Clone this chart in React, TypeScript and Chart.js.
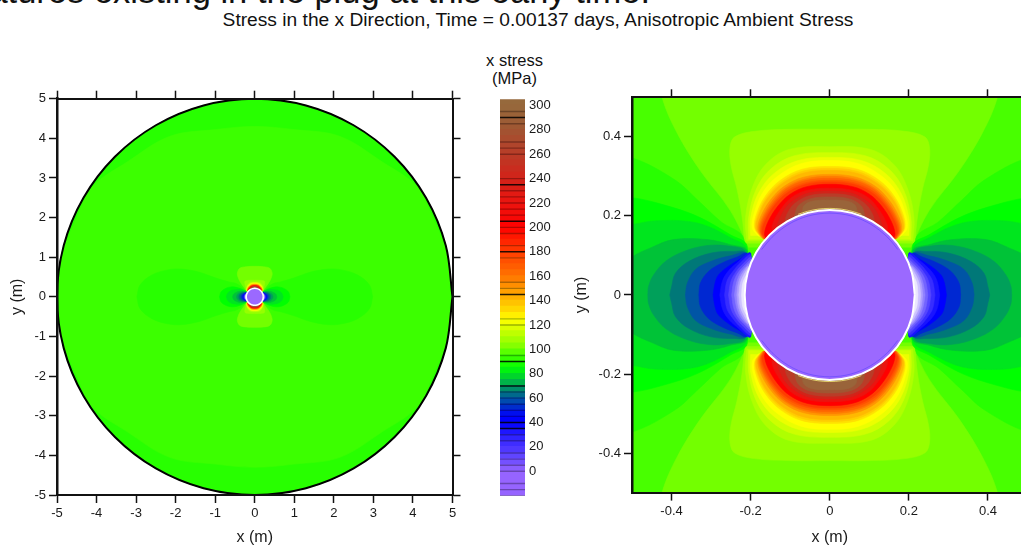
import React, { useEffect, useRef } from "react";
import { Chart, registerables } from "chart.js";

Chart.register(...registerables);

type Pt = [number, number];

// Axis ticks
const wideTicks = [-5, -4, -3, -2, -1, 0, 1, 2, 3, 4, 5];
const closeTicks = [-0.4, -0.2, 0, 0.2, 0.4];
const legendTicks = [0, 20, 40, 60, 80, 100, 120, 140, 160, 180, 200, 220, 240, 260, 280, 300];

// Colour-scale bands (lower edge of each 5 MPa band)
const legendBands = [
  -20, -15, -10, -5, 0, 5, 10, 15, 20, 25, 30, 35, 40, 45, 50, 55, 60, 65, 70, 75, 80, 85, 90, 95, 100, 105, 110, 115,
  120, 125, 130, 135, 140, 145, 150, 155, 160, 165, 170, 175, 180, 185, 190, 195, 200, 205, 210, 215, 220, 225, 230,
  235, 240, 245, 250, 255, 260, 265, 270, 275, 280, 285, 290, 295, 300,
];
const legendLinesStrong = [290, 235, 205, 180, 145, 90, 70, 40, 35];
const legendLinesFaint = [
  295, 285, 270, 265, 260, 240, 230, 225, 220, 215, 210, 200, 195, 185, 175, 155, 150, 125, 120, 95, 65, 60, 55, 50,
  45, 30, 25, 15, 10, 5, 0, -10, -15, -20,
];
const colorStops: Array<[number, number, number, number]> = [
  [-20, 150, 100, 255], [0, 150, 100, 255], [10, 105, 75, 255], [20, 70, 50, 255], [30, 40, 30, 255], [40, 0, 0, 255],
  [45, 0, 0, 255], [50, 0, 30, 220], [55, 0, 60, 190], [60, 0, 90, 160], [65, 0, 120, 120], [70, 0, 160, 90],
  [75, 0, 195, 55], [80, 0, 230, 30], [85, 0, 255, 0], [90, 40, 255, 0], [95, 65, 255, 0], [100, 115, 255, 0],
  [105, 150, 255, 0], [110, 175, 255, 0], [115, 205, 255, 0], [120, 235, 255, 0], [125, 255, 255, 0],
  [130, 255, 225, 0], [140, 255, 185, 0], [150, 255, 150, 0], [165, 255, 100, 0], [180, 255, 60, 0], [200, 255, 0, 0],
  [220, 235, 20, 15], [240, 210, 35, 25], [260, 185, 60, 40], [280, 160, 85, 50], [300, 150, 105, 60], [305, 150, 105, 60],
];

// Rims: one quadrant each, metres
const plugRim: Pt[] = [[5, 0], [4.83, 1.294], [4.33, 2.5], [3.536, 3.536], [2.5, 4.33], [1.294, 4.83], [0, 5]];
const holeRim: Pt[] = [[0.215, 0], [0.2077, 0.0556], [0.1862, 0.1075], [0.152, 0.152], [0.1075, 0.1862], [0.0556, 0.2077], [0, 0.215]];
const holeEdgeInner: Pt[] = [[0.172, 0.115], [0.146, 0.146], [0.1035, 0.179], [0.0536, 0.2], [0, 0.207]];
const holeEdgeOuter: Pt[] = [[0.08, 0.204], [0.0567, 0.2115], [0.03, 0.217], [0, 0.219]];
const lensQuadrant: Pt[] = [[4.95, 0], [4.85, 1.1], [4.5, 2.0], [4.1, 2.78], [3.23, 3.4], [2.15, 4.05], [1, 4.22], [0, 4.3]];
const closeBox: Pt[] = [[-0.5, -0.5], [0.5, -0.5], [0.5, 0.5], [-0.5, 0.5]];

// Crescent contours above and below the hole: tip -> crown, upper right quadrant
const crest100: Pt[] = [[0.205, 0.12], [0.251, 0.213], [0.327, 0.314], [0.386, 0.41], [0.424, 0.5], [0.44, 0.6], [0.38, 0.72], [0.22, 0.76], [0, 0.77]];
const crest105: Pt[] = [[0.215, 0.13], [0.222, 0.2], [0.235, 0.27], [0.25, 0.33], [0.252, 0.375], [0.24, 0.4], [0.19, 0.414], [0.1, 0.419], [0, 0.419]];
const crest110: Pt[] = [[0.21, 0.136], [0.213, 0.195], [0.196, 0.271], [0.162, 0.33], [0.103, 0.368], [0, 0.375]];
const crest115: Pt[] = [[0.205, 0.14], [0.205, 0.195], [0.187, 0.265], [0.15, 0.318], [0.09, 0.352], [0, 0.36]];
const crest120: Pt[] = [[0.2, 0.15], [0.2, 0.195], [0.18, 0.258], [0.14, 0.308], [0.08, 0.34], [0, 0.348]];
const crest125: Pt[] = [[0.179, 0.148], [0.196, 0.169], [0.191, 0.207], [0.17, 0.258], [0.132, 0.3], [0.073, 0.332], [0, 0.34]];
const crest130: Pt[] = [[0.175, 0.146], [0.19, 0.17], [0.185, 0.205], [0.163, 0.25], [0.125, 0.29], [0.07, 0.318], [0, 0.325]];
const crest135: Pt[] = [[0.173, 0.146], [0.188, 0.169], [0.182, 0.202], [0.16, 0.247], [0.122, 0.286], [0.069, 0.313], [0, 0.32]];
const crest140: Pt[] = [[0.172, 0.145], [0.186, 0.168], [0.18, 0.2], [0.157, 0.245], [0.12, 0.282], [0.068, 0.308], [0, 0.315]];
const crest150: Pt[] = [[0.17, 0.143], [0.182, 0.165], [0.175, 0.197], [0.15, 0.24], [0.115, 0.275], [0.066, 0.298], [0, 0.305]];
const crest158: Pt[] = [[0.168, 0.142], [0.179, 0.164], [0.171, 0.195], [0.146, 0.237], [0.112, 0.271], [0.064, 0.293], [0, 0.3]];
const crest165: Pt[] = [[0.166, 0.142], [0.176, 0.163], [0.168, 0.194], [0.143, 0.234], [0.11, 0.268], [0.063, 0.289], [0, 0.295]];
const crest172: Pt[] = [[0.165, 0.141], [0.174, 0.161], [0.165, 0.192], [0.14, 0.232], [0.107, 0.264], [0.061, 0.284], [0, 0.29]];
const crest180: Pt[] = [[0.163, 0.14], [0.171, 0.16], [0.162, 0.19], [0.137, 0.23], [0.105, 0.26], [0.06, 0.28], [0, 0.286]];
const crest200: Pt[] = [[0.16, 0.14], [0.165, 0.155], [0.155, 0.187], [0.131, 0.225], [0.1, 0.255], [0.058, 0.274], [0, 0.28]];
const crest220: Pt[] = [[0.145, 0.158], [0.145, 0.178], [0.125, 0.215], [0.096, 0.247], [0.056, 0.265], [0, 0.27]];
const crest240: Pt[] = [[0.135, 0.168], [0.128, 0.19], [0.112, 0.22], [0.09, 0.24], [0.054, 0.258], [0, 0.263]];
const crest260: Pt[] = [[0.115, 0.178], [0.108, 0.205], [0.088, 0.232], [0.052, 0.251], [0, 0.256]];
const crest280: Pt[] = [[0.09, 0.195], [0.08, 0.225], [0.05, 0.243], [0, 0.248]];
const crest295: Pt[] = [[0.07, 0.205], [0.065, 0.226], [0.045, 0.237], [0, 0.24]];

// Low-stress lobes beside the hole: axis -> tip, upper right quadrant
const trough90: Pt[] = [[2.98, 0], [2.9, 0.3], [2.6, 0.55], [2.2, 0.68], [1.85, 0.7], [1.4, 0.62], [1.0, 0.48], [0.63, 0.37], [0.5, 0.347], [0.39, 0.29], [0.335, 0.241], [0.276, 0.186], [0.217, 0.14]];
const trough85: Pt[] = [[0.89, 0], [0.85, 0.13], [0.72, 0.22], [0.6, 0.25], [0.5, 0.246], [0.42, 0.228], [0.335, 0.199], [0.251, 0.152], [0.209, 0.123]];
const trough80: Pt[] = [[0.72, 0], [0.68, 0.1], [0.58, 0.165], [0.5, 0.178], [0.436, 0.188], [0.335, 0.182], [0.251, 0.145], [0.209, 0.114]];
const trough75: Pt[] = [[0.56, 0], [0.54, 0.06], [0.5, 0.096], [0.453, 0.119], [0.395, 0.14], [0.31, 0.14], [0.251, 0.127], [0.209, 0.11]];
const trough70: Pt[] = [[0.46, 0], [0.458, 0.022], [0.445, 0.051], [0.415, 0.085], [0.369, 0.11], [0.31, 0.125], [0.251, 0.123], [0.213, 0.108]];
const trough65: Pt[] = [[0.4045, 0], [0.4, 0.02], [0.39, 0.055], [0.356, 0.085], [0.3, 0.106], [0.243, 0.11], [0.213, 0.105]];
const trough60: Pt[] = [[0.365, 0], [0.36, 0.03], [0.34, 0.064], [0.3, 0.085], [0.251, 0.099], [0.213, 0.103]];
const trough52: Pt[] = [[0.331, 0], [0.327, 0.03], [0.306, 0.06], [0.272, 0.081], [0.234, 0.096], [0.209, 0.104]];
const trough45: Pt[] = [[0.295, 0], [0.29, 0.03], [0.281, 0.051], [0.251, 0.076], [0.217, 0.096], [0.2, 0.105]];
const trough38: Pt[] = [[0.278, 0], [0.272, 0.033], [0.26, 0.056], [0.236, 0.08], [0.2, 0.104]];
const trough30: Pt[] = [[0.266, 0], [0.26, 0.035], [0.246, 0.058], [0.225, 0.082], [0.2, 0.1]];
const trough22: Pt[] = [[0.256, 0], [0.25, 0.034], [0.238, 0.057], [0.218, 0.08], [0.198, 0.095]];
const trough14: Pt[] = [[0.248, 0], [0.243, 0.032], [0.232, 0.056], [0.212, 0.078], [0.196, 0.09]];
const trough8: Pt[] = [[0.241, 0], [0.236, 0.03], [0.226, 0.055], [0.208, 0.076], [0.195, 0.085]];
const trough4: Pt[] = [[0.235, 0], [0.231, 0.03], [0.221, 0.054], [0.205, 0.072]];
const trough0: Pt[] = [[0.23, 0], [0.226, 0.03], [0.216, 0.053], [0.203, 0.07]];
const troughEdge: Pt[] = [[0.223, 0], [0.22, 0.03], [0.21, 0.052], [0.2, 0.066]];

const crestLevels: Array<[number, Pt[]]> = [
  [100, crest100], [105, crest105], [110, crest110], [115, crest115], [120, crest120], [125, crest125], [130, crest130],
  [135, crest135], [140, crest140], [150, crest150], [158, crest158], [165, crest165], [172, crest172], [180, crest180],
  [200, crest200], [220, crest220], [240, crest240], [260, crest260], [280, crest280], [295, crest295],
];
const troughLevels: Array<[string, Pt[]]> = [
  ["rgb(40,255,0)", trough90], ["rgb(0,255,0)", trough85], ["rgb(0,230,30)", trough80], ["rgb(0,195,55)", trough75],
  ["rgb(0,160,90)", trough70], ["rgb(0,120,120)", trough65], ["rgb(0,85,165)", trough60], ["rgb(0,40,210)", trough52],
  ["rgb(0,0,255)", trough45], ["rgb(25,20,255)", trough38], ["rgb(55,45,255)", trough30], ["rgb(85,70,255)", trough22],
  ["rgb(115,100,255)", trough14], ["rgb(145,130,255)", trough8], ["rgb(175,160,255)", trough4],
  ["rgb(205,195,255)", trough0], ["rgb(235,230,255)", troughEdge],
];

const FONT = "'Liberation Sans', Arial, sans-serif";
const INK = "#111";

function colorFor(v: number): string {
  for (let i = 1; i < colorStops.length; i++) {
    const a = colorStops[i - 1];
    const b = colorStops[i];
    if (v <= b[0]) {
      const t = (v - a[0]) / (b[0] - a[0]);
      const c = [1, 2, 3].map((k) => Math.round(a[k] + (b[k] - a[k]) * t));
      return `rgb(${c[0]},${c[1]},${c[2]})`;
    }
  }
  return "rgb(150,105,60)";
}

const flipX = (p: Pt[]): Pt[] => p.map(([x, y]) => [-x, y] as Pt);
const flipY = (p: Pt[]): Pt[] => p.map(([x, y]) => [x, -y] as Pt);
const ring = (q: Pt[]): Pt[] => {
  const top = [...q, ...flipX(q).reverse().slice(1)];
  return [...top, ...flipY(top).reverse().slice(1)];
};
const arch = (q: Pt[]): Pt[] => [...q, ...flipX(q).reverse().slice(1)];
const lobe = (q: Pt[]): Pt[] => [...q, ...flipY(q).reverse()];

function shape(points: Pt[], fill: string | null, extra: Record<string, unknown> = {}) {
  return {
    data: points.map(([x, y]) => ({ x, y })),
    showLine: true,
    fill: fill ? "shape" : false,
    backgroundColor: fill ?? "transparent",
    borderColor: fill ?? "transparent",
    borderWidth: fill ? 0.6 : 0,
    pointRadius: 0,
    tension: 0.36,
    ...extra,
  };
}

function fieldDatasets() {
  const out: any[] = [];
  for (const [level, q] of crestLevels) {
    out.push(shape(arch(q), colorFor(level)));
    out.push(shape(flipY(arch(q)), colorFor(level)));
  }
  for (const [color, q] of troughLevels) {
    out.push(shape(lobe(q), color));
    out.push(shape(flipX(lobe(q)), color));
  }
  return out;
}

function axisPair(ticks: number[], fix: number, common: any) {
  return {
    type: "linear",
    ...common,
    afterBuildTicks: (s: any) => {
      s.ticks = ticks.map((value) => ({ value }));
    },
    afterFit: (s: any) => {
      if (s.isHorizontal()) s.height = fix;
      else s.width = fix;
    },
  };
}

function plotOptions(cfg: {
  min: number; max: number; ticks: number[];
  left: number; right: number; top: number; bottom: number; titleInset: number;
}) {
  const base = {
    min: cfg.min,
    max: cfg.max,
    border: { display: true, color: INK, width: 2, z: 2 },
    grid: { drawOnChartArea: false, drawTicks: true, tickLength: 8, tickWidth: 1.5, tickColor: INK, z: 2 },
  };
  const labels = {
    display: true,
    color: "#1a1a1a",
    font: { family: FONT, size: 13 },
    padding: 3,
    maxRotation: 0,
    autoSkip: false,
    callback: (v: number) => String(Math.round(v * 10) / 10),
  };
  const silent = { display: false, autoSkip: false, maxRotation: 0 };
  const axisTitle = (text: string, padding: any) => ({
    display: true,
    text,
    color: "#1a1a1a",
    font: { family: FONT, size: 16 },
    padding,
  });
  return {
    animation: false,
    responsive: false,
    events: [],
    plugins: { legend: { display: false }, tooltip: { enabled: false }, title: { display: false } },
    layout: { padding: 0 },
    scales: {
      x: axisPair(cfg.ticks, cfg.bottom, { ...base, position: "bottom", ticks: labels, title: axisTitle("x (m)", { top: 0, bottom: 0 }) }),
      xTop: axisPair(cfg.ticks, cfg.top, { ...base, position: "top", ticks: silent }),
      y: axisPair(cfg.ticks, cfg.left, {
        ...base,
        border: { ...base.border, width: 2.5 },
        position: "left",
        ticks: labels,
        title: axisTitle("y (m)", { top: cfg.titleInset, bottom: 0 }),
      }),
      yRight: axisPair(cfg.ticks, cfg.right, { ...base, position: "right", ticks: silent }),
    },
  };
}

function ordered(list: any[]) {
  return list.map((d, i) => ({ ...d, order: -i, xAxisID: "x", yAxisID: "y" }));
}

export default function App() {
  const wideRef = useRef<HTMLCanvasElement>(null);
  const barRef = useRef<HTMLCanvasElement>(null);
  const closeRef = useRef<HTMLCanvasElement>(null);

  useEffect(() => {
    document.body.style.margin = "0";

    const wide = new Chart(wideRef.current!, {
      type: "scatter",
      data: {
        datasets: ordered([
          shape(ring(plugRim), "rgb(40,255,0)", { tension: 0.333 }),
          shape(ring(lensQuadrant), "rgb(60,255,0)"),
          ...fieldDatasets(),
          shape(ring(holeRim), "rgb(155,105,255)", { tension: 0.333 }),
          shape(ring(holeRim), null, { borderColor: "#fff", borderWidth: 1.5, tension: 0.333 }),
          shape(ring(plugRim), null, { borderColor: "#000", borderWidth: 2, tension: 0.333 }),
        ]),
      },
      options: plotOptions({ min: -5, max: 5, ticks: wideTicks, left: 57, right: 17.5, top: 98.7, bottom: 52, titleInset: 8.4 }) as any,
    });

    const close = new Chart(closeRef.current!, {
      type: "scatter",
      data: {
        datasets: ordered([
          shape(closeBox, "rgb(72,255,0)", { tension: 0 }),
          ...fieldDatasets(),
          shape(arch(holeEdgeOuter), null, { borderColor: "rgba(255,255,130,0.7)", borderWidth: 1, tension: 0.333 }),
          shape(flipY(arch(holeEdgeOuter)), null, { borderColor: "rgba(255,255,130,0.7)", borderWidth: 1, tension: 0.333 }),
          shape(ring(holeRim), "rgb(155,105,255)", { tension: 0.333 }),
          shape(arch(holeEdgeInner), null, { borderColor: "rgba(30,30,255,0.3)", borderWidth: 1, tension: 0.333 }),
          shape(flipY(arch(holeEdgeInner)), null, { borderColor: "rgba(30,30,255,0.3)", borderWidth: 1, tension: 0.333 }),
          shape(ring(holeRim), null, { borderColor: "#fff", borderWidth: 2, tension: 0.333 }),
        ]),
      },
      options: plotOptions({ min: -0.5, max: 0.5, ticks: closeTicks, left: 72, right: 32.5, top: 97.3, bottom: 54.4, titleInset: 12.4 }) as any,
    });

    const legendSets: any[] = legendBands.map((lo, i) => ({
      label: `b${lo}`,
      data: [[lo, lo + 5.4]],
      backgroundColor: colorFor(lo + 2.5),
      borderWidth: 0,
      barPercentage: 1,
      categoryPercentage: 1,
      grouped: false,
      order: 100 + i,
    }));
    legendLinesFaint.forEach((v) =>
      legendSets.push({
        data: [[v - 0.3, v + 0.3]],
        backgroundColor: "rgba(0,0,0,0.3)",
        borderWidth: 0,
        barPercentage: 1,
        categoryPercentage: 1,
        grouped: false,
        order: 1,
      })
    );
    legendLinesStrong.forEach((v) =>
      legendSets.push({
        data: [[v - 0.35, v + 0.35]],
        backgroundColor: "rgba(0,0,0,0.85)",
        borderWidth: 0,
        barPercentage: 1,
        categoryPercentage: 1,
        grouped: false,
        order: 0,
      })
    );

    const bar = new Chart(barRef.current!, {
      type: "bar",
      data: { labels: ["x stress"], datasets: legendSets },
      options: {
        animation: false,
        responsive: false,
        events: [],
        layout: { padding: { left: 20, top: 99.3, bottom: 51.3, right: 0 } },
        plugins: { legend: { display: false }, tooltip: { enabled: false } },
        scales: {
          x: { display: false, stacked: false },
          y: {
            type: "linear",
            position: "right",
            min: -20,
            max: 305,
            border: { display: false },
            grid: { display: false, drawTicks: false },
            afterBuildTicks: (s: any) => {
              s.ticks = legendTicks.map((value) => ({ value }));
            },
            afterFit: (s: any) => {
              s.width = 45;
            },
            ticks: { autoSkip: false, color: "#1a1a1a", padding: 4, font: { family: FONT, size: 13 } },
          },
        },
      } as any,
    });

    return () => {
      wide.destroy();
      close.destroy();
      bar.destroy();
    };
  }, []);

  const pinned: React.CSSProperties = { position: "absolute", display: "block" };
  const line: React.CSSProperties = { position: "absolute", fontFamily: FONT, color: "#111", whiteSpace: "nowrap" };

  return (
    <div style={{ position: "absolute", left: 0, top: 0, width: 1021, height: 547, overflow: "hidden", background: "#fff" }}>
      <div style={{ ...line, right: 371, top: -26, fontSize: 34.5, lineHeight: "34px" }}>features existing in the plug at this early time.</div>
      <div style={{ ...line, left: 0, width: 1076, textAlign: "center", top: 9, fontSize: 19.2, lineHeight: "22px" }}>
        Stress in the x Direction, Time = 0.00137 days, Anisotropic Ambient Stress
      </div>
      <div style={{ ...line, left: 464.5, width: 100, textAlign: "center", top: 51, fontSize: 16.5, lineHeight: "18px" }}>
        x stress
        <br />
        (MPa)
      </div>
      <canvas ref={wideRef} width={470} height={547} style={{ ...pinned, left: 0, top: 0 }} />
      <canvas ref={barRef} width={90} height={547} style={{ ...pinned, left: 480, top: 0 }} />
      <canvas ref={closeRef} width={500} height={547} style={{ ...pinned, left: 560, top: 0 }} />
    </div>
  );
}
